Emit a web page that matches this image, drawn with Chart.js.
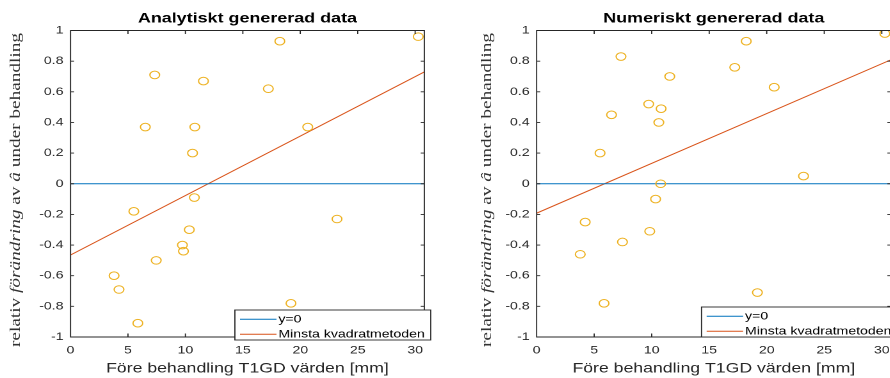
<!DOCTYPE html>
<html lang="sv">
<head>
<meta charset="utf-8">
<title>Relativ förändring mot T1GD</title>
<script src="https://cdn.jsdelivr.net/npm/chart.js@4.4.1/dist/chart.umd.min.js"></script>
<style>
  html, body { margin: 0; width: 890px; height: 378px; overflow: hidden; background: #fff; }
  /* figurerna är utdragna i bredd som i den exporterade bilden */
  .panel { position: absolute; top: 0; transform: scaleX(1.28); transform-origin: 0 0; }
</style>
</head>
<body>
<div class="panel" style="left:0"><canvas id="analytisk" width="348" height="378" style="width:348px;height:378px"></canvas></div>
<div class="panel" style="left:445px"><canvas id="numerisk" width="372" height="378" style="width:372px;height:378px"></canvas></div>
<script>
// T1GD före behandling [mm], samma patienter i båda figurerna
const t1gd = [3.79, 4.22, 5.51, 5.86, 6.51, 7.33, 7.46, 9.74, 9.83, 10.34, 10.62, 10.78, 10.82, 11.57, 17.22, 18.22, 19.19, 20.65, 23.2, 30.27];
// relativ förändring av â under behandling
const analytisk = [-0.60, -0.69, -0.18, -0.91, 0.37, 0.71, -0.50, -0.40, -0.44, -0.30, 0.20, -0.09, 0.37, 0.67, 0.62, 0.93, -0.78, 0.37, -0.23, 0.96];
const numerisk = [-0.46, -0.25, 0.20, -0.78, 0.45, 0.83, -0.38, 0.52, -0.31, -0.10, 0.40, 0.00, 0.49, 0.70, 0.76, 0.93, -0.71, 0.63, 0.05, 0.98];

// linjernas ändpunkter vid x = 0 och x = 30.8
const xGranser = [0, 30.8];
const nollLinje = [0, 0];
const mkAnalytisk = [-0.465, 0.730];
const mkNumerisk = [-0.192, 0.809];

const xTicks = [0, 5, 10, 15, 20, 25, 30];
const yTicks = [-1, -0.8, -0.6, -0.4, -0.2, 0, 0.2, 0.4, 0.6, 0.8, 1];

// y-etiketten, kursiva delar är satta som formel
const yEtikett = [['relativ ', false], ['förändring', true], [' av ', false], ['â', true], [' under behandling', false]];

const axelFarg = '#262626';
const sans = '"Liberation Sans", Arial, Helvetica, sans-serif';

const axelRam = {
  id: 'axelRam',
  afterDraw(chart, args, o) {
    const {ctx, chartArea: a, scales: {x, y}} = chart;
    ctx.save();

    // ram med inåtriktade skalstreck på alla sidor
    ctx.strokeStyle = axelFarg;
    ctx.lineWidth = 0.9;
    ctx.beginPath();
    for (const t of x.ticks) {
      const px = x.getPixelForValue(t.value);
      ctx.moveTo(px, a.bottom); ctx.lineTo(px, a.bottom - 3.5);
      ctx.moveTo(px, a.top); ctx.lineTo(px, a.top + 3.5);
    }
    for (const t of y.ticks) {
      const py = y.getPixelForValue(t.value);
      ctx.moveTo(a.left, py); ctx.lineTo(a.left + 2.8, py);
      ctx.moveTo(a.right, py); ctx.lineTo(a.right - 2.8, py);
    }
    ctx.rect(a.left, a.top, a.right - a.left, a.bottom - a.top);
    ctx.stroke();

    // rubrik
    ctx.fillStyle = '#000';
    ctx.font = 'bold 14px ' + sans;
    ctx.textAlign = 'center';
    ctx.textBaseline = 'middle';
    ctx.fillText(o.rubrik, (a.left + a.right) / 2, 18.5);

    // y-axelns etikett
    const font = kursiv => (kursiv ? 'italic ' : '') + '12px "Liberation Serif", "Times New Roman", serif';
    let bredd = 0;
    for (const [s, k] of yEtikett) { ctx.font = font(k); bredd += ctx.measureText(s).width; }
    ctx.save();
    ctx.translate(o.yEtikettX, 190);
    ctx.rotate(-Math.PI / 2);
    ctx.scale(314 / bredd, 1);
    ctx.textAlign = 'left';
    ctx.fillStyle = '#333';
    let cx = -bredd / 2;
    for (const [s, k] of yEtikett) {
      ctx.font = font(k);
      ctx.fillText(s, cx, 0);
      cx += ctx.measureText(s).width;
    }
    ctx.restore();

    // teckenförklaring
    const linjer = chart.data.datasets.filter(d => d.showLine);
    const w = 153, h = 30;
    const lx = a.right + 5 - w, ly = a.bottom + o.forklaringDy - h;
    ctx.fillStyle = '#fff';
    ctx.fillRect(lx, ly, w, h);
    ctx.strokeStyle = axelFarg;
    ctx.lineWidth = 0.9;
    ctx.strokeRect(lx, ly, w, h);
    ctx.font = '11px ' + sans;
    ctx.textAlign = 'left';
    linjer.forEach((d, i) => {
      const ry = ly + 9.3 + i * 15;
      ctx.strokeStyle = d.borderColor;
      ctx.lineWidth = 1;
      ctx.beginPath(); ctx.moveTo(lx + 4, ry); ctx.lineTo(lx + 32.5, ry); ctx.stroke();
      ctx.fillStyle = '#000';
      ctx.fillText(d.label, lx + 34, ry);
    });
    ctx.restore();
  }
};

function punkter(ys, xs) {
  return xs.map((x, i) => ({x, y: ys[i]}));
}

function figur(id, rubrik, varden, mk, o) {
  return new Chart(document.getElementById(id), {
    type: 'scatter',
    data: {
      datasets: [
        {
          data: punkter(varden, t1gd),
          borderColor: '#EDB120',
          backgroundColor: 'rgba(0,0,0,0)',
          pointRadius: 3.8,
          borderWidth: 1
        },
        {
          label: 'y=0',
          data: punkter(nollLinje, xGranser),
          showLine: true,
          borderColor: '#0072BD',
          borderWidth: 1,
          pointRadius: 0
        },
        {
          label: 'Minsta kvadratmetoden',
          data: punkter(mk, xGranser),
          showLine: true,
          borderColor: '#D95319',
          borderWidth: 1,
          pointRadius: 0
        }
      ]
    },
    options: {
      responsive: false,
      animation: false,
      devicePixelRatio: 2,
      layout: { padding: { top: 30.5, right: o.hoger, bottom: 0, left: 0 } },
      plugins: {
        legend: { display: false },
        tooltip: { enabled: false },
        axelRam: { rubrik, yEtikettX: o.yEtikettX, forklaringDy: o.forklaringDy }
      },
      scales: {
        x: {
          type: 'linear',
          min: xGranser[0],
          max: xGranser[1],
          afterBuildTicks: s => { s.ticks = xTicks.map(value => ({value})); },
          afterFit: s => { s.height = 41; },
          grid: { display: false, drawTicks: false },
          border: { display: false },
          ticks: { autoSkip: false, maxRotation: 0, padding: 7, color: axelFarg, font: { family: sans, size: 11 } },
          title: {
            display: true,
            text: 'Före behandling T1GD värden [mm]',
            color: axelFarg,
            font: { family: sans, size: 13.8 },
            padding: { top: 0, bottom: 1 }
          }
        },
        y: {
          type: 'linear',
          min: -1,
          max: 1,
          afterBuildTicks: s => { s.ticks = yTicks.map(value => ({value})); },
          afterFit: s => { s.width = o.vanster; },
          grid: { display: false, drawTicks: false },
          border: { display: false },
          ticks: {
            autoSkip: false,
            padding: 5.5,
            color: axelFarg,
            font: { family: sans, size: 11 },
            callback: v => String(Math.round(v * 10) / 10)
          }
        }
      }
    },
    plugins: [axelRam]
  });
}

figur('analytisk', 'Analytiskt genererad data', analytisk, mkAnalytisk,
  { vanster: 55.1, hoger: 16.5, yEtikettX: 12.5, forklaringDy: 3 });
figur('numerisk', 'Numeriskt genererad data', numerisk, mkNumerisk,
  { vanster: 71.6, hoger: 23.6, yEtikettX: 32.6, forklaringDy: 0 });
</script>
</body>
</html>
